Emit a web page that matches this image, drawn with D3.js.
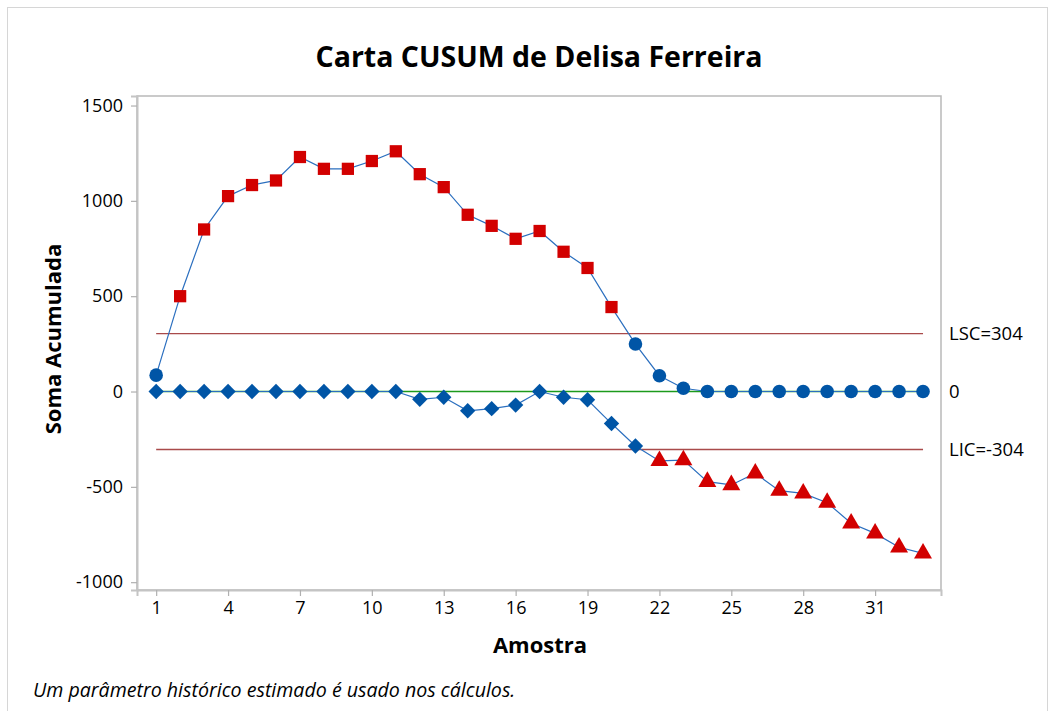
<!DOCTYPE html>
<html>
<head>
<meta charset="utf-8">
<script src="https://cdn.jsdelivr.net/npm/d3@7"></script>
<style>
  body { margin: 0; background: #fff; }
  text { font-family: "Open Sans", "Noto Sans", sans-serif; fill: #000; }
</style>
</head>
<body>
<div id="holder"></div>
<script>
// samples 1..33
const samples = d3.range(1, 34);
// upper cumulative sum (C+)
const upperSum = [86, 500, 850, 1025, 1083, 1107, 1230, 1168, 1168, 1209, 1260,
                  1140, 1072, 927, 869, 801, 842, 733, 648, 443, 249, 83, 17,
                  0, 0, 0, 0, 0, 0, 0, 0, 0, 0];
// lower cumulative sum (C-)
const lowerSum = [0, 0, 0, 0, 0, 0, 0, 0, 0, 0, 0,
                  -41, -30, -101, -90, -71, 0, -30, -43, -168, -286, -364, -360,
                  -473, -490, -429, -520, -534, -583, -691, -744, -817, -849];
const xTicks = [1, 4, 7, 10, 13, 16, 19, 22, 25, 28, 31];
const yTicks = [-1000, -500, 0, 500, 1000, 1500];
const ucl = 304;
const lcl = -304;
const center = 0;

const width = 1055;
const height = 711;
const plotLeft = 137, plotRight = 941, plotTop = 96, plotBottom = 590;

const red = "#d20000";
const blue = "#0055a6";
const lineBlue = "#2b6fbf";

const svg = d3.select("#holder")
    .append("svg")
    .attr("width", width)
    .attr("height", height);

// outer frame
svg.append("rect")
    .attr("x", 7.5).attr("y", 7.5)
    .attr("width", 1040).attr("height", 720)
    .attr("fill", "none")
    .attr("stroke", "#d6d6d6");

const xScale = d3.scaleLinear().domain([0.2, 33.75]).range([plotLeft, plotRight]);
const yScale = d3.scaleLinear().domain([-1041, 1550]).range([plotBottom, plotTop]);

// plot frame
svg.append("rect")
    .attr("x", plotLeft).attr("y", plotTop)
    .attr("width", plotRight - plotLeft).attr("height", plotBottom - plotTop)
    .attr("fill", "none")
    .attr("stroke", "#b9b9b9")
    .attr("stroke-width", 1.5);

const xAxis = d3.axisBottom(xScale).tickValues(xTicks).tickSize(6).tickPadding(5);
const yAxis = d3.axisLeft(yScale).tickValues(yTicks).tickSize(6).tickPadding(8)
    .tickFormat(d => String(d));

const gx = svg.append("g")
    .attr("transform", `translate(0, ${plotBottom})`)
    .call(xAxis);
const gy = svg.append("g")
    .attr("transform", `translate(${plotLeft}, 0)`)
    .call(yAxis);

[gx, gy].forEach(g => {
    g.select(".domain").attr("stroke", "#c4c4c4").attr("stroke-width", 2);
    g.selectAll(".tick line").attr("stroke", "#b0b0b0").attr("stroke-width", 1.2);
    g.selectAll(".tick text")
        .style("font-size", "18px")
        .attr("font-family", '"Open Sans", sans-serif')
        .attr("fill", "#000");
});

// center line
svg.append("line")
    .attr("x1", xScale(1)).attr("x2", xScale(33))
    .attr("y1", yScale(center)).attr("y2", yScale(center))
    .attr("stroke", "#1c9a1c").attr("stroke-width", 1.3);

// control limits
[ucl, lcl].forEach(v => {
    svg.append("line")
        .attr("x1", xScale(1)).attr("x2", xScale(33))
        .attr("y1", yScale(v)).attr("y2", yScale(v))
        .attr("stroke", "#a94a4a").attr("stroke-width", 1.3);
});

const line = d3.line()
    .x((d, i) => xScale(samples[i]))
    .y(d => yScale(d));

svg.append("path")
    .datum(lowerSum)
    .attr("d", line)
    .attr("fill", "none")
    .attr("stroke", lineBlue)
    .attr("stroke-width", 1.2);

svg.append("path")
    .datum(upperSum)
    .attr("d", line)
    .attr("fill", "none")
    .attr("stroke", lineBlue)
    .attr("stroke-width", 1.2);

const diamond = d3.symbol().type(d3.symbolSquare).size(118);
const triangle = d3.symbol().type(d3.symbolTriangle).size(140);
const square = d3.symbol().type(d3.symbolSquare).size(150);
const circle = d3.symbol().type(d3.symbolCircle).size(145);

// lower markers
svg.append("g")
    .selectAll("path")
    .data(lowerSum)
    .enter()
    .append("path")
    .attr("d", (d) => d < lcl ? triangle() : diamond())
    .attr("transform", (d, i) => {
        const t = `translate(${xScale(samples[i])}, ${yScale(d)})`;
        return d < lcl ? t : t + " rotate(45)";
    })
    .attr("fill", (d) => d < lcl ? red : blue);

// upper markers
svg.append("g")
    .selectAll("path")
    .data(upperSum)
    .enter()
    .append("path")
    .attr("d", (d) => d > ucl ? square() : circle())
    .attr("transform", (d, i) => `translate(${xScale(samples[i])}, ${yScale(d)})`)
    .attr("fill", (d) => d > ucl ? red : blue);

// limit labels
[[ucl, "LSC=304"], [center, "0"], [lcl, "LIC=-304"]].forEach(([v, label]) => {
    svg.append("text")
        .attr("x", 949)
        .attr("y", yScale(v))
        .attr("dy", "0.35em")
        .style("font-size", "18.5px")
        .text(label);
});

// titles
svg.append("text")
    .attr("x", 539)
    .attr("y", 67)
    .attr("text-anchor", "middle")
    .style("font-size", "28.5px")
    .style("font-weight", "bold")
    .text("Carta CUSUM de Delisa Ferreira");

svg.append("text")
    .attr("x", 540)
    .attr("y", 653)
    .attr("text-anchor", "middle")
    .style("font-size", "22px")
    .style("font-weight", "bold")
    .text("Amostra");

svg.append("text")
    .attr("x", 61)
    .attr("y", 339)
    .attr("transform", "rotate(-90, 61, 339)")
    .attr("text-anchor", "middle")
    .style("font-size", "22px")
    .style("font-weight", "bold")
    .text("Soma Acumulada");

svg.append("text")
    .attr("x", 33)
    .attr("y", 697)
    .style("font-size", "19.6px")
    .style("font-style", "italic")
    .text("Um parâmetro histórico estimado é usado nos cálculos.");
</script>
</body>
</html>
